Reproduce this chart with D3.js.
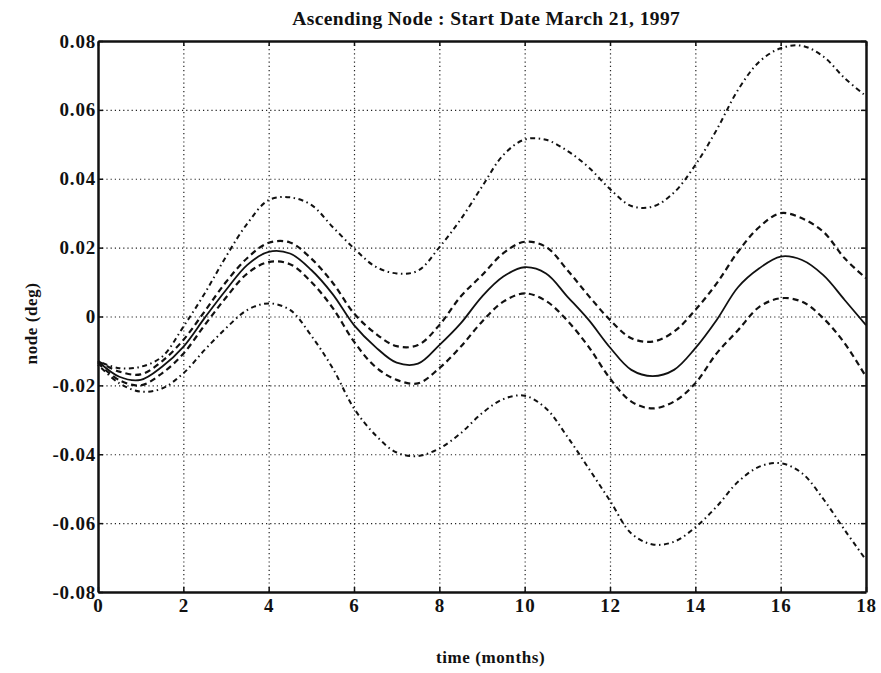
<!DOCTYPE html>
<html>
<head>
<meta charset="utf-8">
<script src="https://cdn.jsdelivr.net/npm/d3@7"></script>
<style>
  body { margin: 0; background: #fff; }
  svg text { font-family: "Liberation Serif", "DejaVu Serif", serif; fill: #111; }
  .tick text { font-size: 19px; font-weight: bold; letter-spacing: 0.8px; }
  .title { font-size: 19.5px; font-weight: bold; letter-spacing: 0.4px; }
  .axis-label { font-size: 17px; font-weight: bold; letter-spacing: 0.6px; }
</style>
</head>
<body>
<div id="chart"></div>
<script>
// CONST and GLOBALS
const width = 881,
  height = 673,
  margin = { top: 41, bottom: 81, left: 98, right: 15 };

// time axis, months
const months = [0, 0.5, 1, 1.5, 2, 2.5, 3, 3.5, 4, 4.5, 5, 5.5, 6, 6.5, 7, 7.5, 8, 8.5, 9,
  9.5, 10, 10.5, 11, 11.5, 12, 12.5, 13, 13.5, 14, 14.5, 15, 15.5, 16, 16.5, 17, 17.5, 18];

// nominal node (solid)
const nodeMean = [-0.013, -0.0175, -0.0184, -0.0146, -0.0088, -0.0004, 0.0077, 0.015, 0.0188,
  0.0183, 0.0135, 0.0065, -0.0025, -0.0088, -0.0134, -0.0137, -0.0083, -0.002, 0.0058,
  0.0116, 0.0143, 0.0125, 0.0058, -0.001, -0.009, -0.0155, -0.0173, -0.0155, -0.0092,
  -0.001, 0.0085, 0.014, 0.0174, 0.0164, 0.012, 0.0048, -0.0025];

// one sigma bounds (dashed)
const nodeUpper1 = [-0.013, -0.016, -0.0168, -0.013, -0.0068, 0.0015, 0.010, 0.017, 0.0214,
  0.0215, 0.0168, 0.0098, 0.0009, -0.0049, -0.0086, -0.0083, -0.0025, 0.0058, 0.012,
  0.0184, 0.0217, 0.0202, 0.0135, 0.006, -0.001, -0.0063, -0.0073, -0.0044, 0.0019,
  0.0096, 0.0188, 0.026, 0.030, 0.0285, 0.0246, 0.0169, 0.0111];
const nodeLower1 = [-0.0135, -0.0185, -0.020, -0.0165, -0.0108, -0.0025, 0.0055, 0.0125, 0.0158,
  0.0152, 0.010, 0.0025, -0.0073, -0.0146, -0.0184, -0.0194, -0.015, -0.0088, -0.0015,
  0.0043, 0.0067, 0.0045, -0.0012, -0.0088, -0.018, -0.0247, -0.0267, -0.0247, -0.0194,
  -0.0107, -0.004, 0.0028, 0.0053, 0.0043, -0.0005, -0.0078, -0.0175];

// three sigma bounds (dash-dot)
const nodeUpper3 = [-0.013, -0.015, -0.0146, -0.0117, -0.003, 0.0067, 0.0174, 0.027, 0.0338,
  0.0346, 0.0324, 0.026, 0.0198, 0.0145, 0.0125, 0.0133, 0.0201, 0.0282, 0.0377,
  0.0469, 0.0514, 0.0513, 0.0481, 0.0433, 0.037, 0.0321, 0.0319, 0.036, 0.044,
  0.0542, 0.0658, 0.074, 0.0779, 0.0786, 0.0755, 0.0692, 0.064];
const nodeLower3 = [-0.014, -0.0194, -0.0218, -0.0209, -0.0165, -0.0097, -0.0034, 0.0019, 0.0038,
  0.0019, -0.0056, -0.015, -0.0267, -0.0344, -0.0395, -0.0405, -0.0383, -0.0339, -0.0281,
  -0.024, -0.023, -0.0267, -0.0349, -0.0441, -0.0535, -0.063, -0.0662, -0.0654, -0.0612,
  -0.0552, -0.048, -0.0436, -0.0426, -0.0455, -0.053, -0.062, -0.0707];

// tick labels
const xTicks = [0, 2, 4, 6, 8, 10, 12, 14, 16, 18];
const yTicks = [-0.08, -0.06, -0.04, -0.02, 0, 0.02, 0.04, 0.06, 0.08];
const yTickLabels = ['-0.08', '-0.06', '-0.04', '-0.02', '0', '0.02', '0.04', '0.06', '0.08'];

const series = [
  { name: 'upper3', values: nodeUpper3, dash: '1.5,3.5,5,3.5', w: 2 },
  { name: 'lower3', values: nodeLower3, dash: '1.5,3.5,5,3.5', w: 2 },
  { name: 'upper1', values: nodeUpper1, dash: '6,4', w: 2.2 },
  { name: 'lower1', values: nodeLower1, dash: '6,4', w: 2.2 },
  { name: 'mean', values: nodeMean, dash: null, w: 1.8 },
];

let svg, xScale, yScale;

function init() {
  const innerW = width - margin.left - margin.right;
  const innerH = height - margin.top - margin.bottom;

  xScale = d3.scaleLinear().domain([0, 18]).range([margin.left, margin.left + innerW]);
  yScale = d3.scaleLinear().domain([-0.08, 0.08]).range([margin.top + innerH, margin.top]);

  svg = d3.select('#chart').append('svg')
    .attr('width', width)
    .attr('height', height);

  // grid (dotted)
  svg.append('g')
    .attr('class', 'grid x-grid')
    .attr('transform', `translate(0,${margin.top + innerH})`)
    .call(d3.axisBottom(xScale).tickValues(xTicks.slice(1, -1)).tickSize(-innerH).tickFormat(''))
    .call(g => g.select('.domain').remove())
    .call(g => g.selectAll('line').attr('stroke', '#222').attr('stroke-width', 1.2).attr('stroke-dasharray', '1.2,3'));

  svg.append('g')
    .attr('class', 'grid y-grid')
    .attr('transform', `translate(${margin.left},0)`)
    .call(d3.axisLeft(yScale).tickValues(yTicks.slice(1, -1)).tickSize(-innerW).tickFormat(''))
    .call(g => g.select('.domain').remove())
    .call(g => g.selectAll('line').attr('stroke', '#222').attr('stroke-width', 1.2).attr('stroke-dasharray', '1.2,3'));

  // lines
  const line = d3.line()
    .x((d, i) => xScale(months[i]))
    .y(d => yScale(d))
    .curve(d3.curveCatmullRom);

  svg.append('g').attr('class', 'lines')
    .selectAll('path')
    .data(series, d => d.name)
    .join('path')
    .attr('d', d => line(d.values))
    .attr('fill', 'none')
    .attr('stroke', '#111')
    .attr('stroke-width', d => d.w)
    .attr('stroke-dasharray', d => d.dash);

  // AXES - ticks point inward on all four sides
  const tickFmt = v => yTickLabels[yTicks.findIndex(t => Math.abs(t - v) < 1e-9)];

  svg.append('g')
    .attr('class', 'axis x-axis')
    .attr('transform', `translate(0,${margin.top + innerH})`)
    .call(d3.axisBottom(xScale).tickValues(xTicks).tickSizeInner(-5).tickSizeOuter(0).tickPadding(7).tickFormat(d => d));

  svg.append('g')
    .attr('class', 'axis y-axis')
    .attr('transform', `translate(${margin.left},0)`)
    .call(d3.axisLeft(yScale).tickValues(yTicks).tickSizeInner(-5).tickSizeOuter(0).tickPadding(2).tickFormat(tickFmt));

  svg.append('g')
    .attr('class', 'axis top-axis')
    .attr('transform', `translate(0,${margin.top})`)
    .call(d3.axisTop(xScale).tickValues(xTicks).tickSizeInner(-5).tickSizeOuter(0).tickFormat(''));

  svg.append('g')
    .attr('class', 'axis right-axis')
    .attr('transform', `translate(${margin.left + innerW},0)`)
    .call(d3.axisRight(yScale).tickValues(yTicks).tickSizeInner(-5).tickSizeOuter(0).tickFormat(''));

  svg.selectAll('.axis .domain').attr('stroke', '#111').attr('stroke-width', 2.5);
  svg.selectAll('.axis .tick line').attr('stroke', '#111').attr('stroke-width', 1.5);
  svg.selectAll('.axis .tick text').attr('fill', '#111');

  // title + labels
  svg.append('text')
    .attr('class', 'title')
    .attr('x', xScale(9.1))
    .attr('y', 25)
    .attr('text-anchor', 'middle')
    .text('Ascending Node : Start Date March 21, 1997');

  svg.append('text')
    .attr('class', 'axis-label')
    .attr('x', xScale(9.2))
    .attr('y', 663)
    .attr('text-anchor', 'middle')
    .text('time (months)');

  svg.append('text')
    .attr('class', 'axis-label')
    .attr('transform', `translate(37,${yScale(-0.002)}) rotate(-90)`)
    .attr('text-anchor', 'middle')
    .text('node (deg)');
}

init();
</script>
</body>
</html>
